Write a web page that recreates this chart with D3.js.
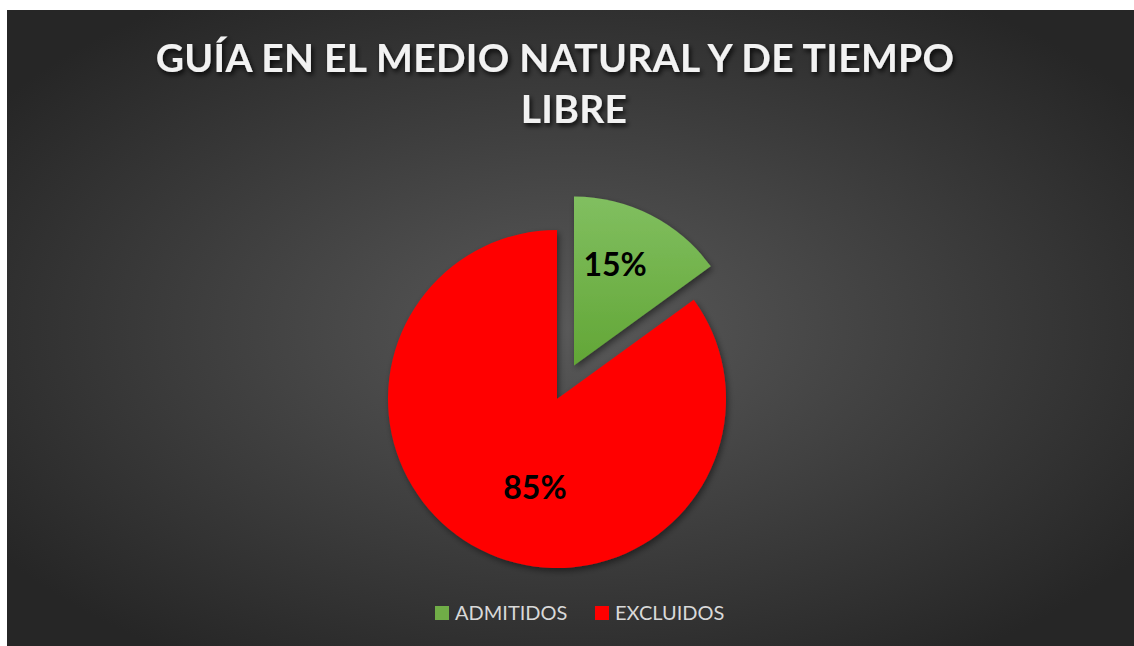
<!DOCTYPE html>
<html>
<head>
<meta charset="utf-8">
<script src="https://cdn.jsdelivr.net/npm/d3@7"></script>
<style>
  html, body { margin: 0; padding: 0; background: #ffffff; }
  svg { display: block; }
</style>
</head>
<body>
<div id="output"></div>
<script>
// chart data
const categories = ["ADMITIDOS", "EXCLUIDOS"];
const values = [15, 85];
const titleLines = ["GUÍA EN EL MEDIO NATURAL Y DE TIEMPO", "LIBRE"];

const W = 1134, H = 646;
const box = { x: 7, y: 10, w: W - 7, h: H - 10 };
const cx = 557, cy = 399, R = 169;
const explode = 37.5;
const fonts = "Lato, 'Open Sans', 'DejaVu Sans', sans-serif";

const svg = d3.select("#output").append("svg")
  .attr("width", W)
  .attr("height", H);

const defs = svg.append("defs");

// background radial gradient
const bg = defs.append("radialGradient")
  .attr("id", "bgGrad")
  .attr("cx", "50%").attr("cy", "50%").attr("r", "62%");
bg.append("stop").attr("offset", "0%").attr("stop-color", "#595959");
bg.append("stop").attr("offset", "100%").attr("stop-color", "#262626");

// green slice gradient
const gg = defs.append("linearGradient")
  .attr("id", "greenGrad")
  .attr("x1", 0).attr("y1", 0).attr("x2", 0).attr("y2", 1);
gg.append("stop").attr("offset", "0%").attr("stop-color", "#81bf60");
gg.append("stop").attr("offset", "100%").attr("stop-color", "#62a636");

const shadow = defs.append("filter")
  .attr("id", "shadow")
  .attr("x", "-20%").attr("y", "-20%").attr("width", "140%").attr("height", "140%");
shadow.append("feDropShadow")
  .attr("dx", 2).attr("dy", 3).attr("stdDeviation", 3)
  .attr("flood-color", "#000").attr("flood-opacity", 0.45);

const titleShadow = defs.append("filter")
  .attr("id", "titleShadow")
  .attr("x", "-10%").attr("y", "-30%").attr("width", "120%").attr("height", "160%");
titleShadow.append("feDropShadow")
  .attr("dx", 2).attr("dy", 3).attr("stdDeviation", 2.5)
  .attr("flood-color", "#000").attr("flood-opacity", 0.8);

svg.append("rect")
  .attr("x", box.x).attr("y", box.y)
  .attr("width", box.w).attr("height", box.h)
  .attr("fill", "url(#bgGrad)");

// title
const title = svg.append("text")
  .attr("text-anchor", "middle")
  .attr("fill", "#f2f2f2")
  .attr("filter", "url(#titleShadow)")
  .style("font-family", fonts)
  .style("font-weight", "bold")
  .style("font-size", "39px")
  .style("letter-spacing", "0.3px");
const titleX = [555, 574];
titleLines.forEach((line, i) => {
  title.append("tspan")
    .attr("x", titleX[i])
    .attr("y", 72 + i * 51)
    .text(line);
});

// pie
const color = d3.scaleOrdinal()
  .domain(categories)
  .range(["url(#greenGrad)", "#ff0000"]);
const legendColor = d3.scaleOrdinal()
  .domain(categories)
  .range(["#70ad47", "#ff0000"]);

const pie = d3.pie().sort(null).value(d => d.value);
const arcs = pie(categories.map((c, i) => ({ name: c, value: values[i] })));
const arc = d3.arc().innerRadius(0).outerRadius(R);

const offset = (d, i) => {
  if (i !== 0) return [0, 0];
  const a = (d.startAngle + d.endAngle) / 2;
  return [Math.sin(a) * explode, -Math.cos(a) * explode];
};

const slices = svg.append("g")
  .attr("transform", `translate(${cx},${cy})`);

slices.selectAll("path")
  .data(arcs)
  .enter().append("path")
  .attr("transform", (d, i) => `translate(${offset(d, i)})`)
  .attr("d", arc)
  .attr("fill", d => color(d.data.name))
  .attr("filter", "url(#shadow)");

// labels (nudged toward Excel's best-fit placement)
const labelArc = d3.arc().innerRadius(0).outerRadius(R * 1.2);
const nudge = [[-5, -11], [24, -2]];
slices.selectAll(".lbl")
  .data(arcs)
  .enter().append("text")
  .attr("class", "lbl")
  .attr("transform", (d, i) => {
    const c = labelArc.centroid(d);
    const o = offset(d, i);
    return `translate(${c[0] + o[0] + nudge[i][0]},${c[1] + o[1] + nudge[i][1]})`;
  })
  .attr("text-anchor", "middle")
  .attr("dy", "0.36em")
  .attr("fill", "#000")
  .style("font-family", fonts)
  .style("font-weight", "bold")
  .style("font-size", "32px")
  .text(d => Math.round(d.data.value / d3.sum(values) * 100) + "%");

// legend
const legend = svg.append("g");
const legendX = [435, 595];
categories.forEach((c, i) => {
  const g = legend.append("g").attr("transform", `translate(${legendX[i]},606)`);
  g.append("rect")
    .attr("width", 14).attr("height", 14)
    .attr("fill", legendColor(c));
  g.append("text")
    .attr("x", 20).attr("y", 14)
    .attr("fill", "#d9d9d9")
    .style("font-family", fonts)
    .style("font-size", "20px")
    .text(c);
});
</script>
</body>
</html>
